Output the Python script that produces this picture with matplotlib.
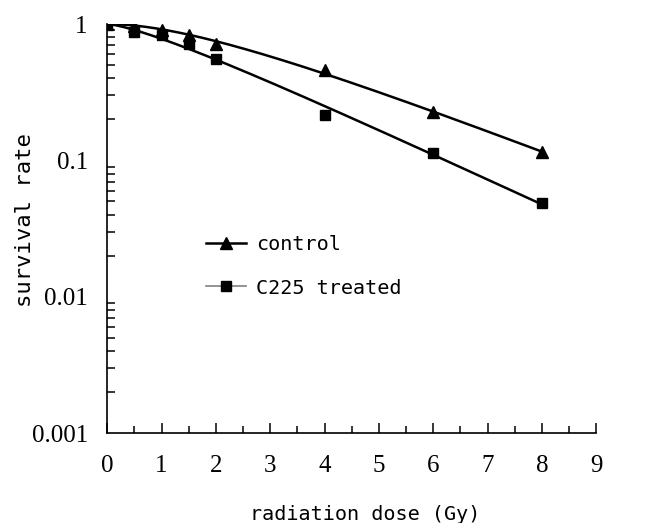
import numpy as np
import matplotlib
matplotlib.use("Agg")
import matplotlib.pyplot as plt
from matplotlib.lines import Line2D
from matplotlib.ticker import FixedLocator, NullFormatter

dose = [0, 0.5, 1, 1.5, 2, 4, 6, 8]
control = [1.0, 0.97, 0.90, 0.83, 0.72, 0.46, 0.225, 0.115]
treated = [1.0, 0.87, 0.83, 0.72, 0.55, 0.214, 0.113, 0.049]
xticks = [0, 1, 2, 3, 4, 5, 6, 7, 8, 9]
yticks = [0.001, 0.01, 0.1, 1]
ylabels = ["0.001", "0.01", "0.1", "1"]


def fit_mtsh(d, s):
    d = np.asarray(d, float)
    ls = np.log(np.asarray(s, float))
    best = None
    for D0 in np.linspace(1.0, 6.0, 251):
        for n in np.linspace(1.0, 4.0, 301):
            pred = np.log(1 - (1 - np.exp(-d / D0)) ** n + 1e-300)
            err = np.sum((pred - ls) ** 2)
            if best is None or err < best[0]:
                best = (err, D0, n)
    return best[1], best[2]


fig = plt.figure(figsize=(6.46, 5.23), dpi=100)
ax = fig.add_axes([0.166, 0.172, 0.757, 0.782])

xx = np.linspace(0, 8, 200)
for data in (control, treated):
    D0, n = fit_mtsh(dose, data)
    yy = 1 - (1 - np.exp(-xx / D0)) ** n
    ax.plot(xx, yy, color="black", lw=1.8, zorder=2)

ax.plot(dose, control, linestyle="none", marker="^", color="black", markersize=9, zorder=3)
ax.plot(dose, treated, linestyle="none", marker="s", color="black", markersize=7, zorder=3)

ax.set_yscale("log")
ax.set_xlim(0, 9)
ax.set_ylim(0.001, 1)
for s in ("top", "right"):
    ax.spines[s].set_visible(False)
for s in ("left", "bottom"):
    ax.spines[s].set_linewidth(1.2)

ax.set_xticks(xticks)
ax.set_xticklabels([str(t) for t in xticks])
ax.xaxis.set_minor_locator(FixedLocator(np.arange(0.5, 9, 1.0)))
ax.set_yticks(yticks)
ax.set_yticklabels(ylabels)
minors = []
for dec in (0.001, 0.01, 0.1):
    for k in range(2, 10):
        minors.append(dec * k)
ax.yaxis.set_minor_locator(FixedLocator(minors))
ax.yaxis.set_minor_formatter(NullFormatter())

ax.tick_params(axis="both", which="both", direction="in", color="black", width=1.1)
ax.tick_params(axis="x", which="major", length=7, pad=16)
ax.tick_params(axis="x", which="minor", length=5)
ax.tick_params(axis="y", which="major", length=0, pad=14)
ax.tick_params(axis="y", which="minor", length=6)
for lab in ax.get_xticklabels() + ax.get_yticklabels():
    lab.set_fontfamily("Liberation Serif")
    lab.set_fontsize(18)

ax.set_xlabel("radiation dose (Gy)", fontfamily="DejaVu Sans Mono", fontsize=14.5)
ax.xaxis.set_label_coords(0.528, -0.177)
ax.set_ylabel("survival rate", fontfamily="DejaVu Sans Mono", fontsize=16)
ax.yaxis.set_label_coords(-0.148, 0.52)

handles = [
    Line2D([], [], color="black", lw=1.8, marker="^", markersize=8),
    Line2D([], [], color="gray", lw=1.2, marker="s", markersize=7, markerfacecolor="black", markeredgecolor="black"),
]
ax.legend(handles, ["control", "C225 treated"], loc="upper left", bbox_to_anchor=(0.185, 0.503),
          frameon=False, prop={"family": "DejaVu Sans Mono", "size": 14.5},
          handlelength=2.0, handletextpad=0.5, labelspacing=1.2, borderaxespad=0)

fig.savefig("out.png", dpi=100)
